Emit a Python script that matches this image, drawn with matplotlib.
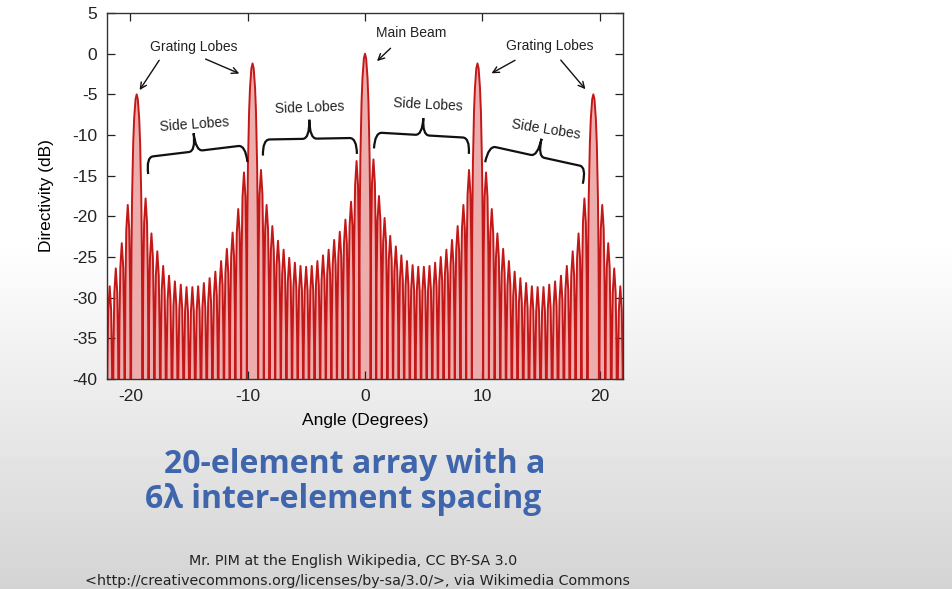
import numpy as np
import matplotlib.pyplot as plt
from matplotlib.path import Path
from matplotlib.patches import PathPatch
from matplotlib.transforms import Affine2D

plt.rcParams['font.family'] = ['Liberation Sans', 'DejaVu Sans']
plt.rcParams['axes.unicode_minus'] = False

# main beam + grating lobes (deg, dB)
beam_angle = [-19.47, -9.59, 0.0, 9.59, 19.47]
beam_db = [-5.0, -1.2, 0.0, -1.2, -5.0]

# side lobe peaks, read left to right
outer_left_angle = [-21.77, -21.25, -20.74, -20.23]
outer_left_db = [-28.6, -26.4, -23.3, -18.6]

gap1_angle = [-18.71, -18.21, -17.71, -17.21, -16.71, -16.21, -15.71, -15.22, -14.72,
              -14.23, -13.74, -13.25, -12.76, -12.27, -11.78, -11.29, -10.81, -10.32]
gap1_db = [-17.8, -22.1, -24.3, -26.1, -27.3, -28.0, -28.4, -28.7, -28.7,
           -28.6, -28.2, -27.6, -26.8, -25.5, -24.0, -22.0, -19.1, -14.6]

gap2_angle = [-8.87, -8.39, -7.90, -7.42, -6.94, -6.46, -5.98, -5.50, -5.02,
              -4.54, -4.06, -3.58, -3.10, -2.63, -2.15, -1.67, -1.19, -0.72]
gap2_db = [-14.3, -18.6, -21.2, -23.0, -24.1, -25.1, -25.7, -26.1, -26.2,
           -26.1, -25.5, -24.8, -24.1, -22.9, -21.9, -20.4, -18.2, -13.2]

gap3_angle = [0.72, 1.19, 1.67, 2.15, 2.63, 3.10, 3.58, 4.06, 4.54,
              5.02, 5.50, 5.98, 6.46, 6.94, 7.42, 7.90, 8.39, 8.87]
gap3_db = [-13.0, -17.5, -20.2, -22.4, -23.7, -24.8, -25.5, -26.0, -26.2,
           -26.2, -26.1, -25.7, -25.0, -24.1, -22.9, -21.2, -18.6, -14.3]

gap4_angle = [10.32, 10.81, 11.29, 11.78, 12.27, 12.76, 13.25, 13.74, 14.23,
              14.72, 15.22, 15.71, 16.21, 16.71, 17.21, 17.71, 18.21, 18.71]
gap4_db = [-14.6, -19.1, -22.1, -24.0, -25.5, -26.8, -27.6, -28.2, -28.6,
           -28.7, -28.7, -28.4, -28.0, -27.3, -26.1, -24.3, -22.1, -17.8]

outer_right_angle = [20.23, 20.74, 21.25, 21.77]
outer_right_db = [-18.6, -23.3, -26.4, -28.6]

# shape of one lobe around its peak: fraction of half width, dB below the peak
side_shape_u = [-1.0, -0.93, -0.8, -0.5, 0.0, 0.5, 0.8, 0.93, 1.0]
side_shape_db = [-60, -19, -10, -3, 0, -3, -10, -19, -60]
beam_shape_u = [-1.0, -0.95, -0.9, -0.8, -0.6, -0.44, -0.2, 0.0, 0.2, 0.44, 0.6, 0.8, 0.9, 0.95, 1.0]
beam_shape_db = [-60, -25.6, -19.2, -12.6, -5.9, -3.0, -0.6, 0.0, -0.6, -3.0, -5.9, -12.6, -19.2, -25.6, -60]
side_half = 0.25
beam_half = 0.49

side_angle = outer_left_angle + gap1_angle + gap2_angle + gap3_angle + gap4_angle + outer_right_angle
side_db = outer_left_db + gap1_db + gap2_db + gap3_db + gap4_db + outer_right_db

lobes = []
for a, d in zip(side_angle, side_db):
    lobes.append((a, np.array(side_shape_u) * side_half + a, np.array(side_shape_db) + d))
for a, d in zip(beam_angle, beam_db):
    lobes.append((a, np.array(beam_shape_u) * beam_half + a, np.array(beam_shape_db) + d))
lobes.sort(key=lambda t: t[0])
xs = np.concatenate([l[1] for l in lobes])
ys = np.concatenate([l[2] for l in lobes])

W, H = 953, 589
fig = plt.figure(figsize=(W / 100, H / 100), dpi=100)

# grey gradient background
bg = fig.add_axes([0, 0, 1, 1], zorder=0)
grad = np.interp(np.arange(H), [0, 240, H], [1.0, 1.0, 0.83]).reshape(-1, 1)
bg.imshow(grad, cmap='gray', vmin=0, vmax=1, aspect='auto', extent=[0, 1, 0, 1])
bg.axis('off')

ax = fig.add_axes([107 / W, 1 - 379 / H, 516 / W, 366 / H], zorder=1)
ax.set_facecolor('white')
ax.fill(xs, ys, color='#e06a6a', alpha=0.55, lw=0)
ax.plot(xs, ys, color='#c41818', lw=1.4)

ax.set_xlim(-22, 22)
ax.set_ylim(-40, 5)
ax.set_xticks([-20, -10, 0, 10, 20])
ax.set_yticks(range(-40, 6, 5))
ax.tick_params(direction='in', top=True, right=True, length=6, width=0.9,
               labelsize=12.5, pad=7, colors='#222222')
for s in ax.spines.values():
    s.set_color('#333333')
    s.set_linewidth(1.0)
ax.set_xlabel('Angle (Degrees)', fontsize=12.5)
ax.set_ylabel('Directivity (dB)', fontsize=12.5)
ax.xaxis.set_label_coords(0.5, -0.093)
ax.yaxis.set_label_coords(-0.103, 0.5)

# labels and arrows
txt = dict(ha='center', va='center', fontsize=10, color='#222222')
ax.text(-14.64, 0.86, 'Grating Lobes', **txt)
ax.text(15.77, 0.98, 'Grating Lobes', **txt)
ax.text(3.91, 2.58, 'Main Beam', **txt)
ax.text(-14.53, -8.73, 'Side Lobes', rotation=4, **txt)
ax.text(-4.72, -6.68, 'Side Lobes', rotation=2, **txt)
ax.text(5.40, -6.27, 'Side Lobes', rotation=-3, **txt)
ax.text(15.40, -9.35, 'Side Lobes', rotation=-9, **txt)

arrows = [((-17.42, -0.53), (-19.35, -4.76)),
          ((-13.81, -0.53), (-10.50, -2.58)),
          ((2.35, 0.9), (0.85, -1.15)),
          ((13.0, -0.65), (10.58, -2.58)),
          ((16.54, -0.53), (18.95, -4.63))]
for tail, head in arrows:
    ax.annotate('', xy=head, xytext=tail,
                arrowprops=dict(arrowstyle='->', lw=1.0, color='#111111', mutation_scale=11))


def brace(cx, cy, width, arm, tip, angle):
    h = width / 2
    c = 7
    verts = [(-h, -arm), (-h, 0), (-h + c, 0), (-c, 0), (0, 0), (0, tip),
             (0, 0), (c, 0), (h - c, 0), (h, 0), (h, -arm)]
    codes = [Path.MOVETO, Path.CURVE3, Path.CURVE3, Path.LINETO, Path.CURVE3, Path.CURVE3,
             Path.CURVE3, Path.CURVE3, Path.LINETO, Path.CURVE3, Path.CURVE3]
    px, py = ax.transData.transform((cx, cy))
    tr = Affine2D().rotate_deg(angle).translate(px, py)
    p = PathPatch(Path(verts, codes), transform=tr, fill=False, lw=1.6,
                  ec='#111111', zorder=5)
    fig.add_artist(p)


brace(-14.43, -11.99, 100, 17, 18, 6.9)
brace(-4.72, -10.46, 94, 16, 19, 1)
brace(4.89, -10.02, 95, 16, 17, -3.3)
brace(14.72, -12.63, 100, 17, 18, -12.4)

# slide caption
blue = '#3f65ad'
fig.text(355 / W, 1 - 473 / H, '20-element array with a', ha='center', va='baseline',
         fontsize=23, fontweight='bold', color=blue, family=['Open Sans', 'DejaVu Sans'])
fig.text(343 / W, 1 - 508 / H, '6λ inter-element spacing', ha='center', va='baseline',
         fontsize=23, fontweight='bold', color=blue, family=['Open Sans', 'DejaVu Sans'])
fig.text(353 / W, 1 - 565 / H, 'Mr. PIM at the English Wikipedia, CC BY-SA 3.0',
         ha='center', va='baseline', fontsize=10.3, color='#222222', family=['DejaVu Sans'])
fig.text(358 / W, 1 - 585 / H,
         '<http://creativecommons.org/licenses/by-sa/3.0/>, via Wikimedia Commons',
         ha='center', va='baseline', fontsize=10.3, color='#222222', family=['DejaVu Sans'])

fig.savefig('out.png', dpi=100)
